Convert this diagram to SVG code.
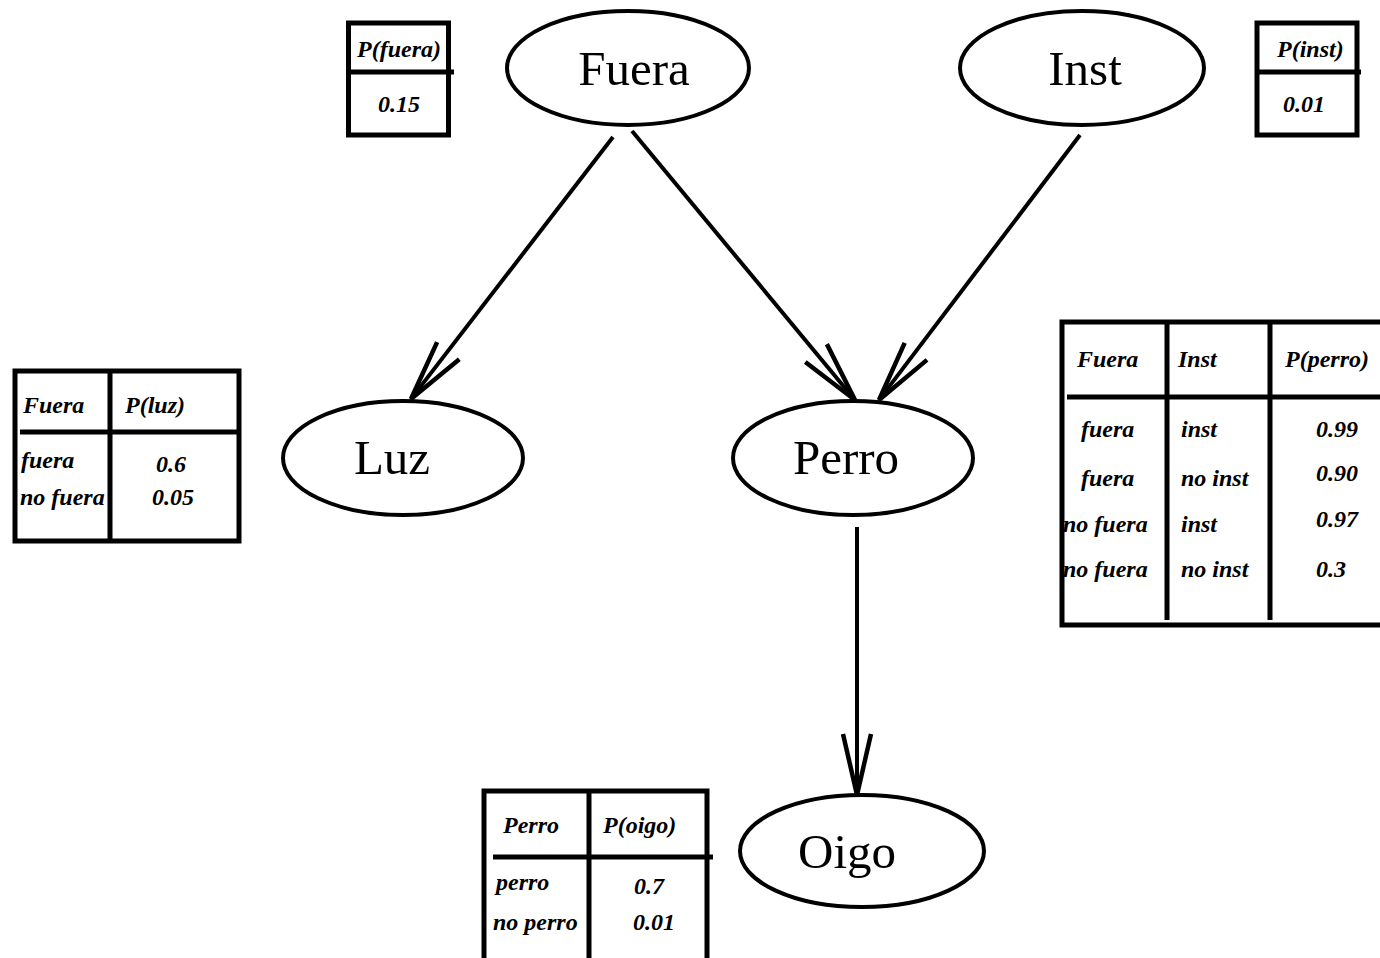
<svg xmlns="http://www.w3.org/2000/svg" width="1380" height="958" viewBox="0 0 1380 958">
  <style>
    .node ellipse { fill: #fff; stroke: #000; stroke-width: 4; }
    .label { font-family: "Liberation Serif", "Times New Roman", serif; font-size: 49px; fill: #000; text-anchor: middle; }
    .tbl { fill: none; stroke: #000; stroke-width: 5; stroke-linecap: butt; }
    .cell { font-family: "Liberation Serif", "Times New Roman", serif; font-size: 24px; font-weight: bold; font-style: italic; fill: #000; }
    .edge { fill: none; stroke: #000; stroke-width: 4; }
  </style>
  <defs>
    <marker id="vee" markerUnits="userSpaceOnUse" markerWidth="90" markerHeight="40" viewBox="-75 -20 90 40" refX="-3" refY="0" orient="auto" overflow="visible">
      <path d="M-61,-14 L0,0 L-61,14" fill="none" stroke="#000" stroke-width="4.5" stroke-linejoin="miter"/>
    </marker>
  </defs>
  <rect width="1380" height="958" fill="#fff"/>

  <!-- connectors -->
  <g id="edges">
    <line class="edge" x1="613" y1="137" x2="412.8" y2="396.6" marker-end="url(#vee)"/>
    <line class="edge" x1="632" y1="131" x2="853.1" y2="397.7" marker-end="url(#vee)"/>
    <line class="edge" x1="1080" y1="135" x2="880.8" y2="397.6" marker-end="url(#vee)"/>
    <line class="edge" x1="857" y1="527" x2="857" y2="792" marker-end="url(#vee)"/>
  </g>

  <!-- nodes -->
  <g id="fuera" class="node">
    <ellipse cx="628" cy="68" rx="121" ry="57"/>
    <text class="label" x="634" y="85">Fuera</text>
  </g>
  <g id="inst" class="node">
    <ellipse cx="1082" cy="68" rx="122" ry="57"/>
    <text class="label" x="1085" y="85">Inst</text>
  </g>
  <g id="luz" class="node">
    <ellipse cx="403" cy="458" rx="120" ry="57"/>
    <text class="label" x="392" y="474">Luz</text>
  </g>
  <g id="perro" class="node">
    <ellipse cx="853" cy="458" rx="120" ry="57"/>
    <text class="label" x="846" y="474">Perro</text>
  </g>
  <g id="oigo" class="node">
    <ellipse cx="862" cy="851" rx="122" ry="56"/>
    <text class="label" x="847" y="868">Oigo</text>
  </g>

  <!-- probability tables -->
  <g id="table-fuera">
    <rect class="tbl" x="348.5" y="23" width="100" height="112"/>
    <line class="tbl" x1="348" y1="72" x2="454" y2="72"/>
    <text class="cell" x="357" y="57">P(fuera)</text>
    <text class="cell" x="378" y="112">0.15</text>
  </g>

  <g id="table-inst">
    <rect class="tbl" x="1257" y="23" width="100" height="112"/>
    <line class="tbl" x1="1257" y1="72" x2="1361" y2="72"/>
    <text class="cell" x="1277" y="57">P(inst)</text>
    <text class="cell" x="1283" y="112">0.01</text>
  </g>

  <g id="table-luz">
    <rect class="tbl" x="15" y="371" width="224" height="170"/>
    <line class="tbl" x1="110" y1="371" x2="110" y2="541"/>
    <line class="tbl" x1="20" y1="432" x2="239" y2="432"/>
    <text class="cell" x="23" y="413">Fuera</text>
    <text class="cell" x="125" y="413">P(luz)</text>
    <text class="cell" x="21" y="468">fuera</text>
    <text class="cell" x="156" y="472">0.6</text>
    <text class="cell" x="20" y="505">no fuera</text>
    <text class="cell" x="152" y="505">0.05</text>
  </g>

  <g id="table-perro">
    <path class="tbl" d="M1380,322 H1062 V625 H1380"/>
    <line class="tbl" x1="1167" y1="322" x2="1167" y2="620"/>
    <line class="tbl" x1="1270" y1="322" x2="1270" y2="620"/>
    <line class="tbl" x1="1067" y1="397" x2="1380" y2="397"/>
    <text class="cell" x="1077" y="367">Fuera</text>
    <text class="cell" x="1178" y="367">Inst</text>
    <text class="cell" x="1285" y="367">P(perro)</text>
    <text class="cell" x="1081" y="437">fuera</text>
    <text class="cell" x="1181" y="437">inst</text>
    <text class="cell" x="1316" y="437">0.99</text>
    <text class="cell" x="1081" y="486">fuera</text>
    <text class="cell" x="1181" y="486">no inst</text>
    <text class="cell" x="1316" y="481">0.90</text>
    <text class="cell" x="1063" y="532">no fuera</text>
    <text class="cell" x="1181" y="532">inst</text>
    <text class="cell" x="1316" y="527">0.97</text>
    <text class="cell" x="1063" y="577">no fuera</text>
    <text class="cell" x="1181" y="577">no inst</text>
    <text class="cell" x="1316" y="577">0.3</text>
  </g>

  <g id="table-oigo">
    <path class="tbl" d="M484,958 V791 H707 V958"/>
    <line class="tbl" x1="589" y1="791" x2="589" y2="958"/>
    <line class="tbl" x1="493" y1="857" x2="713" y2="857"/>
    <text class="cell" x="503" y="833">Perro</text>
    <text class="cell" x="603" y="833">P(oigo)</text>
    <text class="cell" x="496" y="890">perro</text>
    <text class="cell" x="634" y="894">0.7</text>
    <text class="cell" x="493" y="930">no perro</text>
    <text class="cell" x="633" y="930">0.01</text>
  </g>
</svg>
